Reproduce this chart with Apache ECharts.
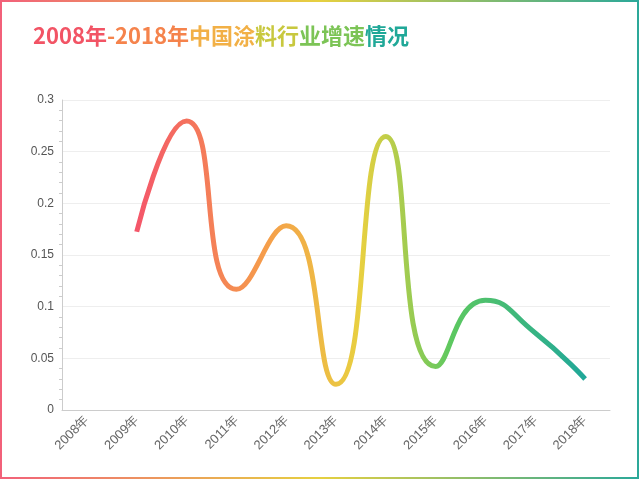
<!DOCTYPE html><html><head><meta charset="utf-8"><script src="https://cdn.jsdelivr.net/npm/echarts@6/dist/echarts.min.js"></script></head><body style="margin:0"><div id="c" style="width:640px;height:480px"></div><script>
const years=['2008年','2009年','2010年','2011年','2012年','2013年','2014年','2015年','2016年','2017年','2018年'];
const growth=[null,0.1725,0.2796,0.1168,0.1782,0.0248,0.2646,0.0421,0.1061,0.0745,0.03];
const labels=['','17.25%','27.96%','11.68%','17.82%','2.48%','26.46%','4.21%','10.61%','7.45%','3%'];
const titleParts=['2008年','-2018年','中国涂','料行','业增速','情况'];
const titleColors=['#f25465','#f5834c','#f2b046','#c8c83e','#7cc456','#20a898'];
const c=echarts.init(document.getElementById('c'));
const G=(s)=>new echarts.graphic.LinearGradient(0,0,1,0,s);
const rich={};titleParts.forEach((t,i)=>rich['p'+i]={color:titleColors[i],fontSize:22,fontWeight:'bold',fontFamily:'Noto Sans CJK SC'});
c.setOption({
 graphic:[{type:'rect',shape:{x:1,y:1,width:637,height:477},style:{fill:'none',lineWidth:2,stroke:G([{offset:0,color:'#f2607a'},{offset:0.5,color:'#e6d040'},{offset:1,color:'#2aa89a'}])}}],
 title:{left:28,top:20,text:titleParts.map((t,i)=>'{p'+i+'|'+t+'}').join(''),textStyle:{rich}},
 grid:{left:62,right:30,top:100,bottom:70},
 xAxis:{type:'category',data:years,boundaryGap:true,axisLine:{lineStyle:{color:'#ccc'}},axisTick:{show:false},axisLabel:{rotate:45,color:'#666',fontSize:13,interval:0,margin:8}},
 yAxis:{type:'value',min:0,max:0.3,interval:0.05,axisLine:{show:true,lineStyle:{color:'#ccc'}},axisTick:{show:false},minorTick:{show:true,splitNumber:5,lineStyle:{color:'#ccc'}},splitLine:{lineStyle:{color:'#eee'}},axisLabel:{color:'#555',fontSize:12}},
 series:[{type:'line',data:growth,smooth:0.55,symbol:'circle',symbolSize:1,showSymbol:true,itemStyle:{opacity:0},lineStyle:{width:5,color:G([{offset:0,color:'#f4556a'},{offset:0.3,color:'#f5a04a'},{offset:0.5,color:'#e8d040'},{offset:0.7,color:'#5cc860'},{offset:1,color:'#1fa79a'}])},
  label:{show:true,position:'top',distance:12,offset:[-8,0],color:'#333',fontSize:13,formatter:p=>labels[p.dataIndex]}}]
});
</script></body></html>
